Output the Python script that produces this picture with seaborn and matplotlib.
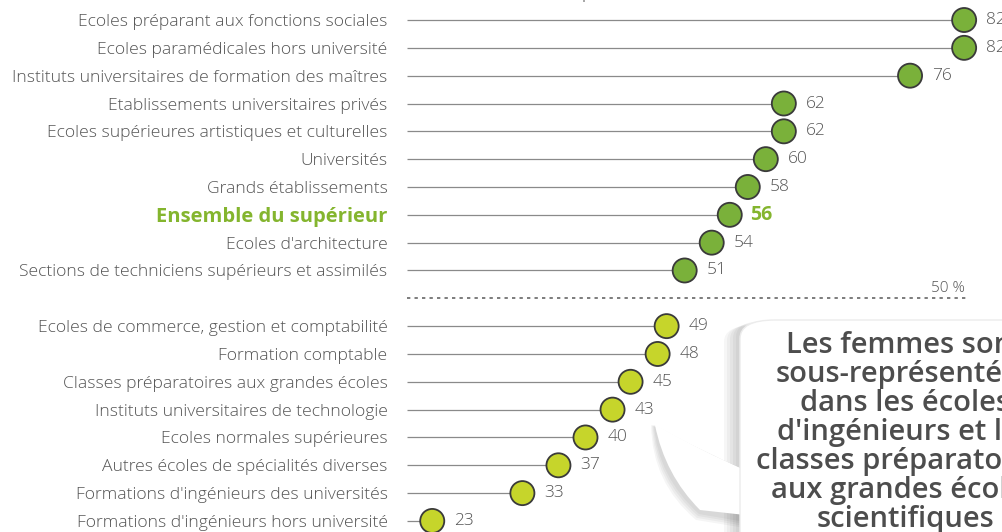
import matplotlib
matplotlib.use("Agg")
import matplotlib.pyplot as plt
import seaborn as sns
import pandas as pd
from matplotlib.patches import FancyBboxPatch, PathPatch
from matplotlib.path import Path

# Données : part des femmes (en %)
etab_haut = [
    "Ecoles préparant aux fonctions sociales",
    "Ecoles paramédicales hors université",
    "Instituts universitaires de formation des maîtres",
    "Etablissements universitaires privés",
    "Ecoles supérieures artistiques et culturelles",
    "Universités",
    "Grands établissements",
    "Ensemble du supérieur",
    "Ecoles d'architecture",
    "Sections de techniciens supérieurs et assimilés",
]
valeurs_haut = [82, 82, 76, 62, 62, 60, 58, 56, 54, 51]

etab_bas = [
    "Ecoles de commerce, gestion et comptabilité",
    "Formation comptable",
    "Classes préparatoires aux grandes écoles",
    "Instituts universitaires de technologie",
    "Ecoles normales supérieures",
    "Autres écoles de spécialités diverses",
    "Formations d'ingénieurs des universités",
    "Formations d'ingénieurs hors université",
]
valeurs_bas = [49, 48, 45, 43, 40, 37, 33, 23]

ligne_ensemble = "Ensemble du supérieur"
titre = "Part des femmes par filière (en %)"
texte_bulle = ("Les femmes sont\nsous-représentées\ndans les écoles\n"
               "d'ingénieurs et les\nclasses préparatoires\naux grandes écoles\nscientifiques")

GRIS = "#555555"
VERT = "#7ab13a"
JAUNE = "#c6d52b"
VERT_TXT = "#84b52e"

df = pd.DataFrame({
    "etab": etab_haut + etab_bas,
    "valeur": valeurs_haut + valeurs_bas,
    "groupe": ["haut"] * len(etab_haut) + ["bas"] * len(etab_bas),
})
# une ligne vide entre les deux groupes pour le trait pointillé
df["pos"] = list(range(len(etab_haut))) + [len(etab_haut) + 1 + i for i in range(len(etab_bas))]

sns.set_style("white")
plt.rcParams["font.family"] = ["Open Sans", "DejaVu Sans"]

fig = plt.figure(figsize=(10.02, 5.32), dpi=100)
ax = fig.add_axes([407 / 1002, 0, 1 - 407 / 1002, 1])
ax.set_xlim(20.2, 86.2)
ax.set_ylim(18.397, -0.719)

ax.hlines(df["pos"], 20.2, df["valeur"], color="#8a8a8a", lw=0.9, zorder=1)
sns.scatterplot(data=df, x="valeur", y="pos", hue="groupe",
                palette={"haut": VERT, "bas": JAUNE}, s=300,
                edgecolor="#3a3a3a", linewidth=1.3, legend=False, zorder=3, ax=ax)

for _, r in df.iterrows():
    if r["etab"] == ligne_ensemble:
        ax.text(r["valeur"] + 2.2, r["pos"], f"{r['valeur']}", va="center", ha="left",
                fontsize=14, color=VERT_TXT, fontweight="bold")
    else:
        ax.text(r["valeur"] + 2.4, r["pos"], f"{r['valeur']}", va="center", ha="left",
                fontsize=12.5, color=GRIS, fontweight="light")

sep = len(etab_haut)
ax.hlines(sep, 20.2, 82.3, color="#666666", lw=1.2, linestyles=(0, (2, 2.5)), zorder=1)
ax.text(82.1, sep - 0.35, "50 %", ha="right", va="center", fontsize=11, color=GRIS,
        fontweight="light")

ax.set_yticks(df["pos"])
ax.set_yticklabels(df["etab"], fontsize=12.6, color=GRIS, fontweight="light")
for lab in ax.get_yticklabels():
    if lab.get_text() == ligne_ensemble:
        lab.set_color(VERT_TXT)
        lab.set_fontweight("bold")
        lab.set_fontsize(14.5)
ax.tick_params(axis="y", length=0, pad=14)
ax.set_xticks([])
ax.set_xlabel("")
ax.set_ylabel("")
sns.despine(ax=ax, left=True, bottom=True)

# titre coupé en haut
fig.text(575 / 1002, 1.0 + 8 / 532, titre, ha="center", va="center", fontsize=15,
         color=GRIS, fontweight="light")

# bulle
def px(x, y):
    return (x / 1002, 1 - y / 532)

for i in range(5):
    off = 14 - 3 * i
    ombre = FancyBboxPatch(px(738 - off, 560), (300 + off) / 1002, (240 - off * 0.4) / 532,
                           boxstyle="round,pad=0,rounding_size=0.03", transform=fig.transFigure,
                           facecolor="#000000", edgecolor="none", alpha=0.035, zorder=5)
    fig.patches.append(ombre)

for i in range(4):
    d = 8 - 2 * i
    queue_ombre = Path([px(745, 470), px(700, 450), px(665 - d / 2, 430), px(655 - d / 2, 425),
                        px(660 - d, 475 + d), px(700 - d / 2, 512 + d), px(745, 520 + d), px(745, 470)],
                       [Path.MOVETO, Path.CURVE3, Path.LINETO, Path.LINETO,
                        Path.CURVE3, Path.LINETO, Path.LINETO, Path.CLOSEPOLY])
    fig.patches.append(PathPatch(queue_ombre, transform=fig.transFigure, facecolor="#000000",
                                 edgecolor="none", alpha=0.04, zorder=5))

queue = Path([px(745, 470), px(700, 450), px(665, 430), px(655, 425),
              px(665, 475), px(700, 510), px(745, 515), px(745, 470)],
             [Path.MOVETO, Path.CURVE3, Path.LINETO, Path.LINETO,
              Path.CURVE3, Path.LINETO, Path.LINETO, Path.CLOSEPOLY])
fig.patches.append(PathPatch(queue, transform=fig.transFigure, facecolor="white",
                             edgecolor="none", zorder=6))
boite = FancyBboxPatch(px(740, 560), 300 / 1002, 240 / 532,
                       boxstyle="round,pad=0,rounding_size=0.035", transform=fig.transFigure,
                       facecolor="white", edgecolor="#ececec", lw=1, zorder=7)
fig.patches.append(boite)
fig.text(px(905, 0)[0], px(0, 331)[1], texte_bulle, ha="center", va="top",
         fontsize=21, fontweight="semibold", color="#4d4d4d", linespacing=1.0, zorder=8,
         family=["Open Sans", "DejaVu Sans"])

fig.savefig("out.png", dpi=100)
